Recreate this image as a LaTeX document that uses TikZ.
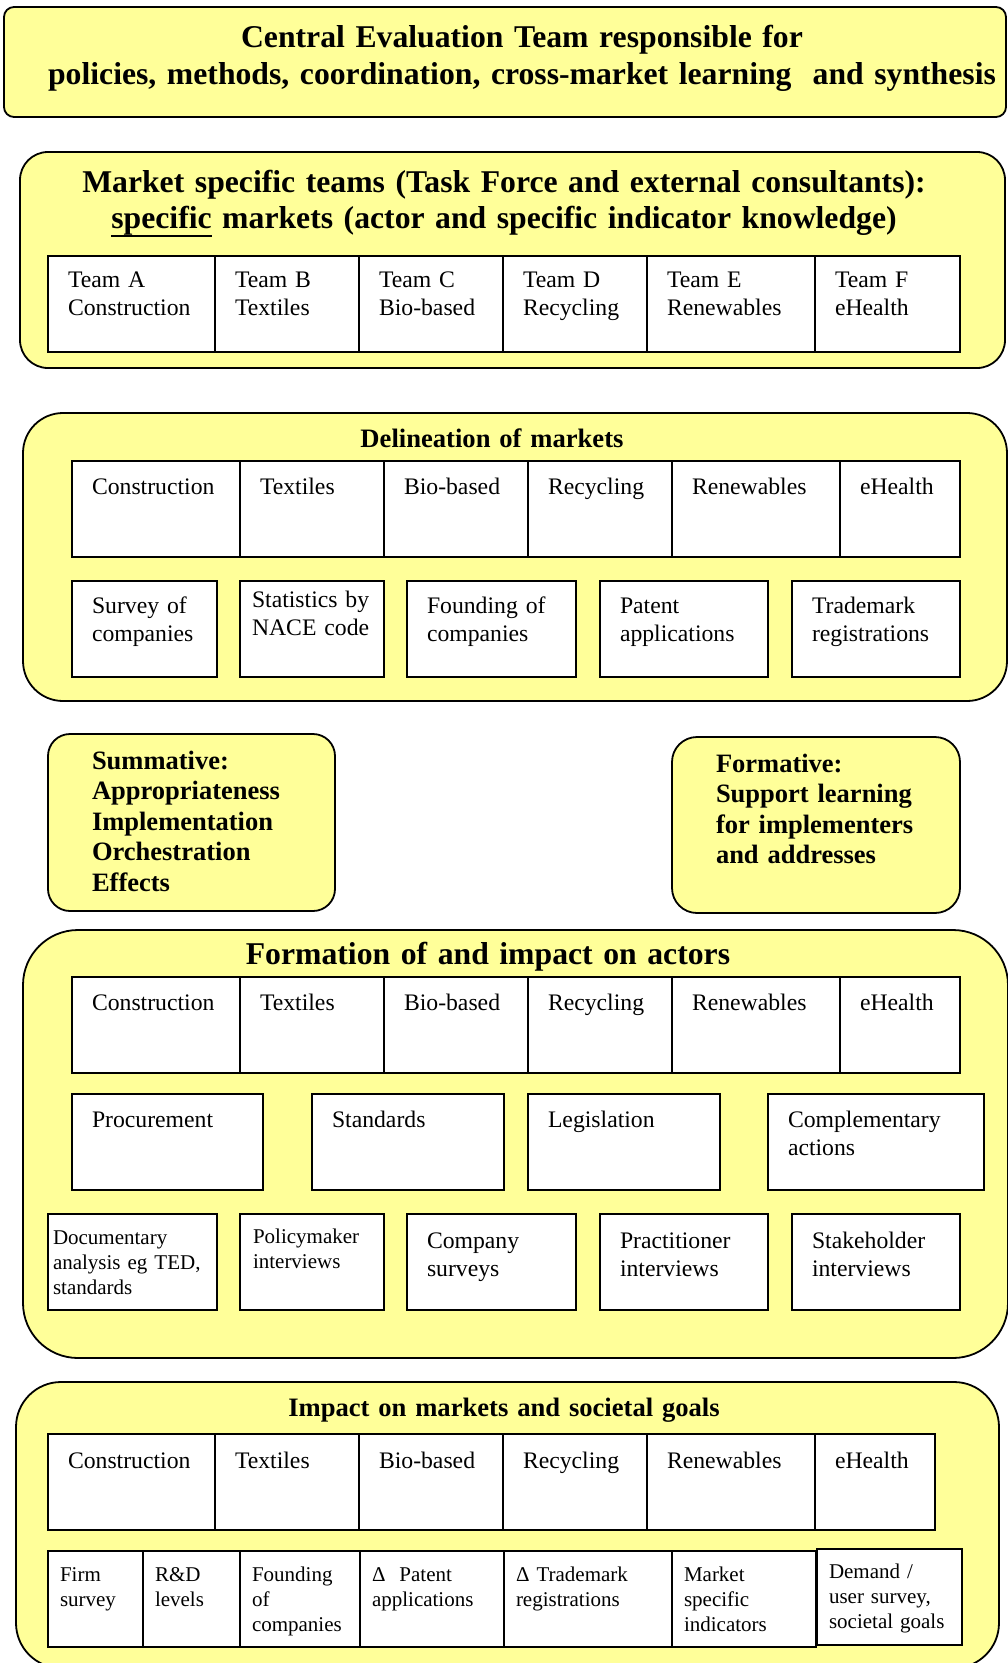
\documentclass[tikz,border=0pt]{standalone}
\usepackage{fontspec}
\setmainfont{Liberation Serif}
\usepackage{tikz}
\usetikzlibrary{positioning}

\definecolor{paleyellow}{RGB}{255,255,153}
\newcommand{\thickul}[1]{\leavevmode\vtop{\hbox{#1}\hrule height 2.4pt}}

\begin{document}
\begin{tikzpicture}[
        x=1pt, y=-1pt,
        panel/.style={rectangle, draw=black, line width=1.8pt, fill=paleyellow, anchor=north west, inner sep=0pt, outer sep=0pt},
        title/.style={anchor=base, align=center, text width=1000pt, inner sep=0pt, font=\fontsize{31.7}{37}\selectfont\bfseries},
        subtitle/.style={title, font=\fontsize{26.6}{31}\selectfont\bfseries},
        cell/.style={rectangle, draw=black, line width=1.8pt, fill=white, anchor=north west, align=left, outer sep=0pt,
            inner xsep=20pt, inner ysep=0pt, text width=#1-40pt, text height=33pt, text depth=63pt,
            font=\fontsize{23.7}{28}\selectfont},
        small cell/.style={cell=#1, inner xsep=12pt, text width=#1-24pt, text height=30pt, text depth=66pt,
            font=\fontsize{21}{25}\selectfont},
        aim/.style={panel, rounded corners=22pt, align=left, inner xsep=44pt, inner ysep=0pt,
            text width=#1-88pt, text height=35pt, font=\fontsize{26.5}{30.5}\selectfont\bfseries}
    ]
        \useasboundingbox (0,0) rectangle (1008,1663);
        \clip (0,0) rectangle (1008,1663);

        % Central team
        \node[panel, rounded corners=10pt, minimum width=1002pt, minimum height=110pt] (central) at (4,7) {};
        \node[title] (centralT) at (522,47) {Central Evaluation Team responsible for\\ policies, methods, coordination, cross-market learning\ \ and synthesis};

        % Market specific teams
        \node[panel, rounded corners=28pt, minimum width=985pt, minimum height=216pt] (teams) at (20,152) {};
        \node[title, font=\fontsize{31.7}{36}\selectfont\bfseries] (teamsT) at (504,192) {Market specific teams (Task Force and external consultants):\\ \thickul{specific} markets (actor and specific indicator knowledge)};
        \node[cell=167pt, text height=31pt, text depth=65pt] (tA) at (48,256) {Team A\\Construction};
        \node[cell=144pt, text height=31pt, text depth=65pt, right=0pt of tA] (tB) {Team B\\Textiles};
        \node[cell=144pt, text height=31pt, text depth=65pt, right=0pt of tB] (tC) {Team C\\Bio-based};
        \node[cell=144pt, text height=31pt, text depth=65pt, right=0pt of tC] (tD) {Team D\\Recycling};
        \node[cell=168pt, text height=31pt, text depth=65pt, right=0pt of tD] (tE) {Team E\\Renewables};
        \node[cell=145pt, text height=31pt, text depth=65pt, right=0pt of tE] (tF) {Team F\\eHealth};

        % Delineation of markets
        \node[panel, rounded corners=40pt, minimum width=984pt, minimum height=288pt] (deli) at (23,413) {};
        \node[subtitle] (deliT) at (492,447) {Delineation of markets};
        \node[cell=168pt] (dCon) at (72,461) {Construction};
        \node[cell=144pt, right=0pt of dCon] (dTex) {Textiles};
        \node[cell=144pt, right=0pt of dTex] (dBio) {Bio-based};
        \node[cell=144pt, right=0pt of dBio] (dRec) {Recycling};
        \node[cell=168pt, right=0pt of dRec] (dRen) {Renewables};
        \node[cell=120pt, right=0pt of dRen] (dEhe) {eHealth};
        \node[cell=145pt, text height=32pt, text depth=64pt] (dSur) at (72,581) {Survey of\\companies};
        \node[cell=144pt, inner xsep=12pt, text width=120pt, text height=26pt, text depth=70pt, right=23pt of dSur] (dSta) {Statistics by\\NACE code};
        \node[cell=169pt, text height=32pt, text depth=64pt, right=23pt of dSta] (dFou) {Founding of\\companies};
        \node[cell=168pt, text height=32pt, text depth=64pt, right=24pt of dFou] (dPat) {Patent\\applications};
        \node[cell=168pt, text height=32pt, text depth=64pt, right=24pt of dPat] (dTra) {Trademark\\registrations};

        % Aims of the evaluation
        \node[aim=287pt, text depth=142pt] (summ) at (48,734) {Summative:\\Appropriateness\\Implementation\\Orchestration\\Effects};
        \node[aim=288pt, text depth=141pt, rounded corners=25pt] (form) at (672,737) {Formative:\\Support learning\\for implementers\\and addresses};

        % Formation of and impact on actors
        \node[panel, rounded corners=55pt, minimum width=985pt, minimum height=428pt] (actors) at (23,930) {};
        \node[title] (actorsT) at (488,964) {Formation of and impact on actors};
        \node[cell=168pt] (aCon) at (72,977) {Construction};
        \node[cell=144pt, right=0pt of aCon] (aTex) {Textiles};
        \node[cell=144pt, right=0pt of aTex] (aBio) {Bio-based};
        \node[cell=144pt, right=0pt of aBio] (aRec) {Recycling};
        \node[cell=168pt, right=0pt of aRec] (aRen) {Renewables};
        \node[cell=120pt, right=0pt of aRen] (aEhe) {eHealth};
        \node[cell=191pt] (aPro) at (72,1094) {Procurement};
        \node[cell=192pt, right=49pt of aPro] (aSta) {Standards};
        \node[cell=192pt, right=24pt of aSta] (aLeg) {Legislation};
        \node[cell=216pt, right=48pt of aLeg] (aCom) {Complementary\\actions};
        \node[small cell=169pt, inner xsep=5pt, text width=159pt] (aDoc) at (48,1214) {Documentary\\analysis eg TED,\\standards};
        \node[small cell=144pt, inner xsep=13pt, text width=118pt, text height=29pt, text depth=67pt, right=23pt of aDoc] (aPol) {Policymaker\\interviews};
        \node[cell=169pt, text height=34pt, text depth=62pt, right=23pt of aPol] (aCsu) {Company\\surveys};
        \node[cell=168pt, text height=34pt, text depth=62pt, right=24pt of aCsu] (aPra) {Practitioner\\interviews};
        \node[cell=168pt, text height=34pt, text depth=62pt, right=24pt of aPra] (aSth) {Stakeholder\\interviews};

        % Impact on markets and societal goals
        \node[panel, rounded corners=45pt, minimum width=983pt, minimum height=286pt] (impact) at (16,1382) {};
        \node[subtitle] (impactT) at (504,1416) {Impact on markets and societal goals};
        \node[cell=167pt, text height=34pt, text depth=62pt] (iCon) at (48,1434) {Construction};
        \node[cell=144pt, text height=34pt, text depth=62pt, right=0pt of iCon] (iTex) {Textiles};
        \node[cell=144pt, text height=34pt, text depth=62pt, right=0pt of iTex] (iBio) {Bio-based};
        \node[cell=144pt, text height=34pt, text depth=62pt, right=0pt of iBio] (iRec) {Recycling};
        \node[cell=168pt, text height=34pt, text depth=62pt, right=0pt of iRec] (iRen) {Renewables};
        \node[cell=120pt, text height=34pt, text depth=62pt, right=0pt of iRen] (iEhe) {eHealth};
        \node[small cell=95pt] (iFir) at (48,1551) {Firm\\survey};
        \node[small cell=97pt, right=0pt of iFir] (iRD) {R\&D\\levels};
        \node[small cell=120pt, right=0pt of iRD] (iFou) {Founding\\of\\companies};
        \node[small cell=144pt, right=0pt of iFou] (iPat) {Δ~~Patent\\applications};
        \node[small cell=168pt, right=0pt of iPat] (iTra) {Δ Trademark\\registrations};
        \node[small cell=144pt, right=0pt of iTra] (iMar) {Market\\specific\\indicators};
        \node[small cell=145pt, line width=2.4pt, text height=29pt, text depth=67pt, right=1pt of iMar, yshift=2pt] (iDem) {Demand /\\user survey,\\societal goals};
    \end{tikzpicture}
\end{document}
